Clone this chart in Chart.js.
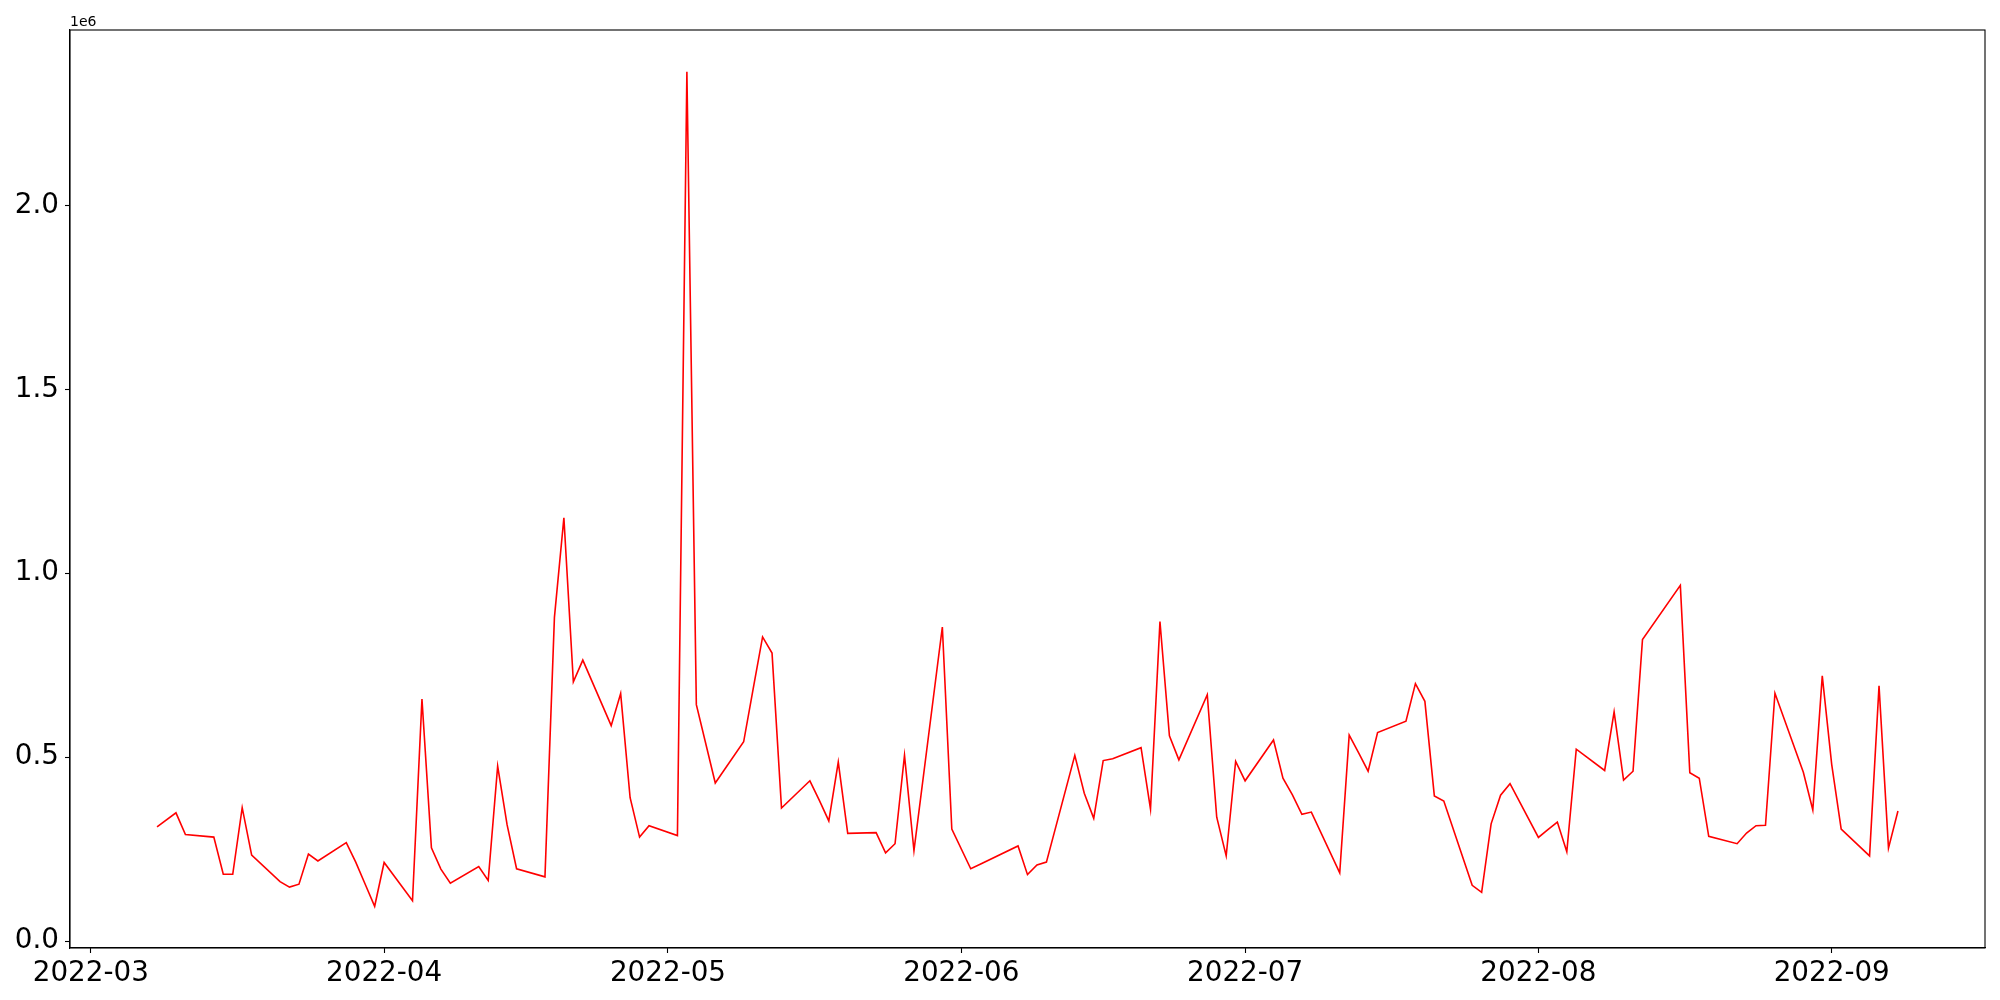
<!DOCTYPE html>
<html>
<head>
<meta charset="utf-8">
<script src="https://cdn.jsdelivr.net/npm/chart.js@4.4.1/dist/chart.umd.min.js"></script>
<style>
  html, body { margin: 0; padding: 0; background: #fff; }
  #wrap { width: 2000px; height: 1000px; }
</style>
</head>
<body>
<div id="wrap"><canvas id="volumeChart" width="2000" height="1000"></canvas></div>
<script>
const dates = [
  "2022-03-08", "2022-03-10", "2022-03-11", "2022-03-14", "2022-03-15", "2022-03-16", "2022-03-17", "2022-03-18",
  "2022-03-21", "2022-03-22", "2022-03-23", "2022-03-24", "2022-03-25", "2022-03-28", "2022-03-29", "2022-03-30", "2022-03-31",
  "2022-04-01", "2022-04-04", "2022-04-05", "2022-04-06", "2022-04-07", "2022-04-08", "2022-04-11", "2022-04-12",
  "2022-04-13", "2022-04-14", "2022-04-15", "2022-04-18", "2022-04-19", "2022-04-20", "2022-04-21", "2022-04-22",
  "2022-04-25", "2022-04-26", "2022-04-27", "2022-04-28", "2022-04-29",
  "2022-05-02", "2022-05-03", "2022-05-04", "2022-05-06", "2022-05-09", "2022-05-10", "2022-05-11", "2022-05-12",
  "2022-05-13", "2022-05-16", "2022-05-17", "2022-05-18", "2022-05-19", "2022-05-20", "2022-05-23", "2022-05-24",
  "2022-05-25", "2022-05-26", "2022-05-27", "2022-05-30", "2022-05-31",
  "2022-06-02", "2022-06-03", "2022-06-07", "2022-06-08", "2022-06-09", "2022-06-10", "2022-06-13", "2022-06-14",
  "2022-06-15", "2022-06-16", "2022-06-17", "2022-06-20", "2022-06-21", "2022-06-22", "2022-06-23", "2022-06-24",
  "2022-06-27", "2022-06-28", "2022-06-29", "2022-06-30",
  "2022-07-01", "2022-07-04", "2022-07-05", "2022-07-06", "2022-07-07", "2022-07-08", "2022-07-11", "2022-07-12",
  "2022-07-13", "2022-07-14", "2022-07-15", "2022-07-18", "2022-07-19", "2022-07-20", "2022-07-21", "2022-07-22",
  "2022-07-25", "2022-07-26", "2022-07-27", "2022-07-28", "2022-07-29",
  "2022-08-01", "2022-08-02", "2022-08-03", "2022-08-04", "2022-08-05", "2022-08-08", "2022-08-09", "2022-08-10",
  "2022-08-11", "2022-08-12", "2022-08-16", "2022-08-17", "2022-08-18", "2022-08-19", "2022-08-22", "2022-08-23",
  "2022-08-24", "2022-08-25", "2022-08-26", "2022-08-29", "2022-08-30", "2022-08-31",
  "2022-09-01", "2022-09-02", "2022-09-05", "2022-09-06", "2022-09-07", "2022-09-08"
];

const volumes = [
  311000, 349000, 290000, 283000, 182000, 182000, 363000, 234000,
  162000, 147000, 155000, 237000, 218000, 268000, 215000, 155000, 95000,
  214000, 110000, 658000, 254000, 196000, 158000, 203000, 165000,
  476000, 316000, 197000, 175000, 880000, 1151000, 705000, 764000,
  586000, 673000, 390000, 283000, 314000,
  287000, 2363000, 643000, 430000, 542000, 685000, 827000, 783000,
  362000, 436000, 383000, 327000, 487000, 293000, 295000, 240000,
  265000, 505000, 246000, 854000, 305000,
  197000, 209000, 259000, 181000, 207000, 215000, 505000, 402000,
  334000, 491000, 496000, 526000, 359000, 869000, 558000, 493000,
  670000, 337000, 232000, 489000,
  436000, 547000, 443000, 398000, 345000, 351000, 186000, 560000,
  512000, 462000, 567000, 598000, 700000, 652000, 395000, 381000,
  152000, 133000, 319000, 397000, 428000,
  282000, 303000, 324000, 243000, 522000, 464000, 623000, 438000,
  462000, 820000, 967000, 458000, 443000, 285000, 265000, 294000,
  314000, 315000, 674000, 459000, 357000, 721000,
  480000, 305000, 232000, 694000, 253000, 354000
];

const monthTicks = ["2022-03-01", "2022-04-01", "2022-05-01", "2022-06-01", "2022-07-01", "2022-08-01", "2022-09-01"];
const yTicks = [0, 500000, 1000000, 1500000, 2000000];

function toMs(s) {
  const p = s.split("-").map(Number);
  return Date.UTC(p[0], p[1] - 1, p[2]);
}

const points = dates.map((d, i) => ({ x: toMs(d), y: volumes[i] }));

// matplotlib style 5% margins
const xs = points.map(p => p.x);
const ys = volumes;
const xMin = Math.min(...xs), xMax = Math.max(...xs);
const yMin = Math.min(...ys), yMax = Math.max(...ys);
const xPad = (xMax - xMin) * 0.05;
const yPad = (yMax - yMin) * 0.05;

const FONT = "'DejaVu Sans', sans-serif";

const frame = {
  id: "frame",
  afterDraw(chart) {
    const { ctx, chartArea: a } = chart;
    ctx.save();
    ctx.strokeStyle = "#000";
    ctx.lineWidth = 1.1;
    ctx.strokeRect(a.left, a.top, a.right - a.left, a.bottom - a.top);
    ctx.fillStyle = "#000";
    ctx.font = "14px " + FONT;
    ctx.textAlign = "left";
    ctx.textBaseline = "alphabetic";
    ctx.fillText("1e6", a.left, a.top - 4);
    ctx.restore();
  }
};

new Chart(document.getElementById("volumeChart"), {
  type: "line",
  data: {
    datasets: [{
      data: points,
      borderColor: "#ff0000",
      borderWidth: 1.6,
      pointRadius: 0,
      tension: 0,
      fill: false
    }]
  },
  options: {
    responsive: false,
    animation: false,
    events: [],
    layout: { padding: { left: 0, right: 15, top: 30, bottom: 0 } },
    plugins: { legend: { display: false }, tooltip: { enabled: false } },
    scales: {
      x: {
        type: "linear",
        min: xMin - xPad,
        max: xMax + xPad,
        afterBuildTicks: s => { s.ticks = monthTicks.map(m => ({ value: toMs(m) })); },
        afterFit: s => { s.height = 52; },
        ticks: {
          color: "#000",
          font: { family: FONT, size: 27.8 },
          padding: 4,
          maxRotation: 0,
          autoSkip: false,
          callback: v => {
            const d = new Date(v);
            return d.getUTCFullYear() + "-" + String(d.getUTCMonth() + 1).padStart(2, "0");
          }
        },
        grid: { drawOnChartArea: false, drawTicks: true, tickLength: 5, tickColor: "#000", tickWidth: 1.1 },
        border: { color: "#000", width: 1.1 }
      },
      y: {
        min: yMin - yPad,
        max: yMax + yPad,
        afterBuildTicks: s => { s.ticks = yTicks.map(v => ({ value: v })); },
        afterFit: s => { s.width = 70; },
        ticks: {
          color: "#000",
          font: { family: FONT, size: 27.8 },
          padding: 6,
          callback: v => (v / 1e6).toFixed(1)
        },
        grid: { drawOnChartArea: false, drawTicks: true, tickLength: 5, tickColor: "#000", tickWidth: 1.1 },
        border: { color: "#000", width: 1.1 }
      }
    }
  },
  plugins: [frame]
});
</script>
</body>
</html>
